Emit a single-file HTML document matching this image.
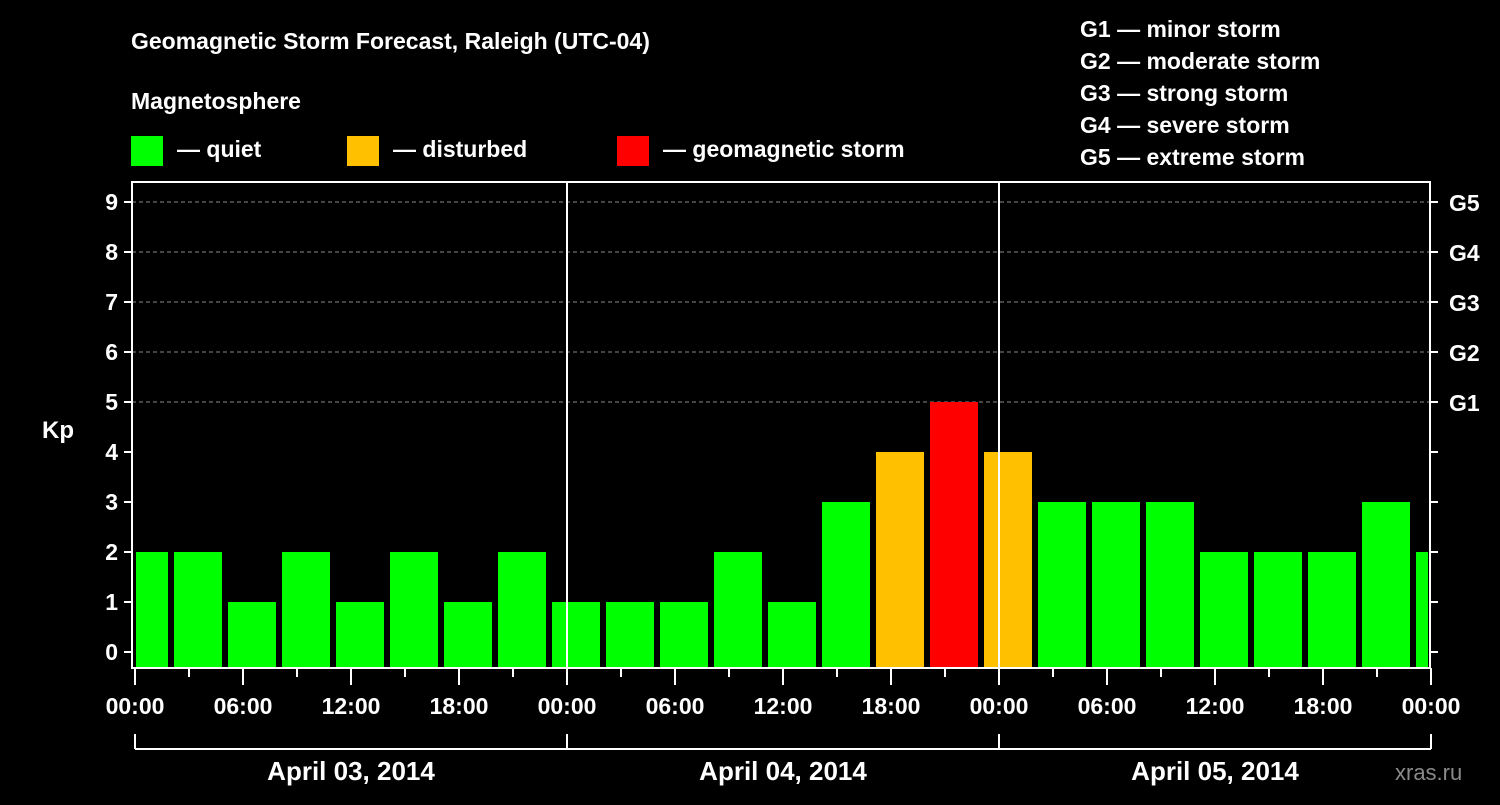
<!DOCTYPE html>
<html><head><meta charset="utf-8"><style>
body{margin:0;background:#000;}
svg text{font-family:"Liberation Sans",Arial,sans-serif;font-weight:bold;fill:#fff;}
</style></head><body>
<svg id="c" width="1500" height="800" xmlns="http://www.w3.org/2000/svg">
<rect width="1500" height="800" fill="#000"/>
<text x="131" y="49" font-size="23">Geomagnetic Storm Forecast, Raleigh (UTC-04)</text>
<text x="131" y="109" font-size="23">Magnetosphere</text>
<g><rect x="131" y="136" width="32" height="30" fill="#00ff00"/><text x="177" y="157" font-size="23">— quiet</text></g>
<g><rect x="347" y="136" width="32" height="30" fill="#ffc000"/><text x="393" y="157" font-size="23">— disturbed</text></g>
<g><rect x="617" y="136" width="32" height="30" fill="#ff0000"/><text x="663" y="157" font-size="23">— geomagnetic storm</text></g>
<g font-size="23">
<text x="1080" y="37">G1 — minor storm</text>
<text x="1080" y="69">G2 — moderate storm</text>
<text x="1080" y="101">G3 — strong storm</text>
<text x="1080" y="133">G4 — severe storm</text>
<text x="1080" y="165">G5 — extreme storm</text>
</g>
<text x="42" y="438" font-size="24">Kp</text>
<text x="1395" y="780" font-size="22" fill="#888" style="fill:#8a8a8a;font-weight:normal">xras.ru</text>
<g id="plot"></g>
</svg>
<script>
const kpValues=[2,2,1,2,1,2,1,2,1,1,1,2,1,3,4,5,4,3,3,3,2,2,2,3,2];
const barCenterHours=[0.5,3.5,6.5,9.5,12.5,15.5,18.5,21.5,24.5,27.5,30.5,33.5,36.5,39.5,42.5,45.5,48.5,51.5,54.5,57.5,60.5,63.5,66.5,69.5,72.5];
const yTicks=[0,1,2,3,4,5,6,7,8,9];
const gLabels=["G1","G2","G3","G4","G5"];
const timeLabels=["00:00","06:00","12:00","18:00","00:00","06:00","12:00","18:00","00:00","06:00","12:00","18:00","00:00"];
const dayLabels=["April 03, 2014","April 04, 2014","April 05, 2014"];
const NS="http://www.w3.org/2000/svg";
const L=132,R=1430,T=182,B=668;
const xH=h=>135+h*18;
const yK=k=>652-k*50;
const g=document.getElementById('plot');
function mk(t,a){const e=document.createElementNS(NS,t);for(const k in a)e.setAttribute(k,a[k]);g.appendChild(e);return e;}
// gridlines
for(let k=5;k<=9;k++){const e=mk('line',{x1:L,x2:R,y1:yK(k),y2:yK(k),stroke:'#888','stroke-dasharray':'4,3','stroke-width':1});

}
// bars
kpValues.forEach((v,i)=>{
 let x0=xH(barCenterHours[i])-24,x1=xH(barCenterHours[i])+24;
 x0=Math.max(x0,L+4);x1=Math.min(x1,R-2);
 const col=v>=5?'#ff0000':(v>=4?'#ffc000':'#00ff00');
 const r=mk('rect',{x:x0,y:yK(v),width:x1-x0,height:B-yK(v),fill:col});
 
 
});
// day separators
for(let d=1;d<3;d++){const e=mk('line',{x1:xH(24*d),x2:xH(24*d),y1:T,y2:B,stroke:'#fff','stroke-width':2});

}
// frame
const f=mk('rect',{x:L,y:T,width:R-L,height:B-T,fill:'none',stroke:'#fff','stroke-width':2});


// y ticks
yTicks.forEach(k=>{
 mk('line',{x1:L-8,x2:L,y1:yK(k),y2:yK(k),stroke:'#fff','stroke-width':2});
 mk('line',{x1:R,x2:R+8,y1:yK(k),y2:yK(k),stroke:'#fff','stroke-width':2});
 const t=mk('text',{x:L-14,y:yK(k)+8,'font-size':23,'text-anchor':'end'});t.textContent=k;
 
 
});
gLabels.forEach((s,i)=>{const t=mk('text',{x:R+19,y:yK(5+i)+9,'font-size':23});t.textContent=s;
 
 });
// x ticks
for(let h=0;h<=72;h+=3){mk('line',{x1:xH(h),x2:xH(h),y1:B,y2:B+(h%6===0?17:9),stroke:'#fff','stroke-width':2});}
timeLabels.forEach((s,i)=>{const t=mk('text',{x:xH(i*6),y:714,'font-size':23,'text-anchor':'middle'});t.textContent=s;
 
 });
// day bracket
mk('line',{x1:xH(0),x2:xH(72),y1:749,y2:749,stroke:'#fff','stroke-width':2});
for(let d=0;d<=3;d++)mk('line',{x1:xH(24*d),x2:xH(24*d),y1:734,y2:749,stroke:'#fff','stroke-width':2});
dayLabels.forEach((s,i)=>{const t=mk('text',{x:xH(24*i+12),y:780,'font-size':26,'text-anchor':'middle'});t.textContent=s;
 
 });
</script>
</body></html>
